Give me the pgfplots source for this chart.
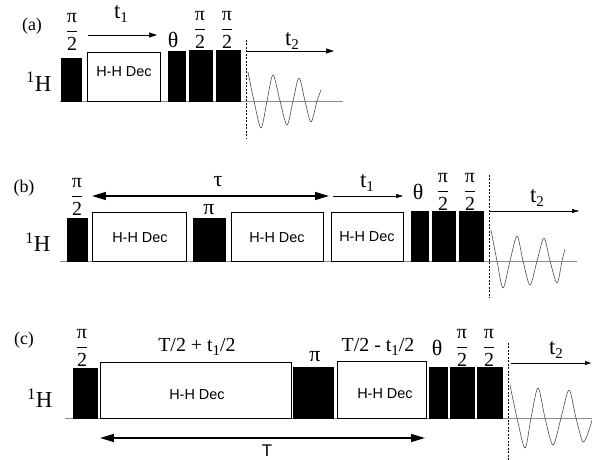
\documentclass[border=0pt]{standalone}
\usepackage{fontspec}
\setmainfont{Liberation Serif}
\newfontfamily\sansf{Liberation Sans}
\usepackage{pgfplots}
\pgfplotsset{compat=1.18}
\usetikzlibrary{arrows.meta}
\definecolor{baseg}{gray}{0.55}
\definecolor{waveg}{gray}{0.3}
\newcommand{\pihalf}{$\displaystyle\frac{\mbox{π}}{\mbox{2}}$}
\newcommand{\pulse}[4]{\addplot[fill=black,draw=black,line width=0.3pt] coordinates {(#1,#4) (#1,#3) (#2,#3) (#2,#4)} -- cycle;}
\newcommand{\decbox}[4]{\addplot[fill=white,draw=black,line width=0.7pt] coordinates {(#1,#4) (#1,#3) (#2,#3) (#2,#4)} -- cycle;}
\newcommand{\sub}[1]{\raisebox{-0.35ex}{\fontsize{15}{16}\selectfont #1}}
\tikzset{
  lbl/.style={font=\fontsize{22}{24}\selectfont, inner sep=0pt},
  fr/.style={font=\fontsize{20}{22}\selectfont, inner sep=0pt},
  tl/.style={font=\fontsize{23}{25}\selectfont, inner sep=0pt, anchor=base},
  hh/.style={font=\sansf\fontsize{14.5}{16}\selectfont, inner sep=0pt},
  pl/.style={font=\fontsize{18}{20}\selectfont, inner sep=0pt},
  hl/.style={font=\fontsize{23}{25}\selectfont, inner sep=0pt, anchor=base},
}
\begin{document}
\begin{tikzpicture}
\begin{axis}[scale only axis, width=592bp, height=460bp,
  xmin=0, xmax=592, ymin=0, ymax=460, y dir=reverse,
  hide axis, clip=false]
\coordinate (BBa) at (axis cs:0,0);
\coordinate (BBb) at (axis cs:592,460);
% ---------------- panel (a)
\addplot[baseg, line width=0.8pt] coordinates {(60,101) (343,101)};
\pulse{61}{81}{58}{101}
\decbox{87}{160}{52}{101}
\pulse{168}{185}{51}{101}
\pulse{189}{212}{50}{101}
\pulse{216}{240}{50}{101}
\addplot[black, line width=0.5pt, dash pattern=on 2pt off 1.5pt] coordinates {(246,40) (246,138)};
\addplot[waveg, line width=0.6pt, smooth] coordinates {(248,72) (254,101) (261,128) (267,101) (273,75) (280,101) (287,125) (293,101) (299,78) (305,101) (311,122) (317,101) (321,90)};
\addplot[black, line width=0.7pt, -{Triangle[length=8pt,width=5pt]}] coordinates {(88,35) (157,35)};
\addplot[black, line width=0.7pt, -{Triangle[length=8pt,width=5pt]}] coordinates {(247,51) (334,51)};
\node[pl] at (axis cs:32,26) {(a)};
\node[hl] at (axis cs:39,92) {\textsuperscript{1}H};
\node[hh] at (axis cs:124,72) {H-H Dec};
\node[fr] at (axis cs:72,32) {\pihalf};
\node[fr] at (axis cs:200,30) {\pihalf};
\node[fr] at (axis cs:227,30) {\pihalf};
\node[lbl] at (axis cs:173,40) {θ};
\node[tl] at (axis cs:121,19) {t\sub{1}};
\node[tl] at (axis cs:292,46) {t\sub{2}};
% ---------------- panel (b)
\addplot[baseg, line width=0.8pt] coordinates {(60,261) (577,261)};
\pulse{67}{87}{218}{261}
\decbox{92}{186}{212}{261}
\pulse{193}{225}{218}{261}
\decbox{231}{323}{212}{261}
\decbox{331}{403}{212}{261}
\pulse{411}{428}{211}{261}
\pulse{432}{455}{211}{261}
\pulse{459}{483}{211}{261}
\addplot[black, line width=0.5pt, dash pattern=on 2pt off 1.5pt] coordinates {(489,175) (489,298)};
\addplot[waveg, line width=0.6pt, smooth] coordinates {(491,230) (497,261) (503,288) (510,261) (517,236) (523,261) (530,285) (537,261) (544,238) (550,261) (557,283) (562,261) (565,249)};
\addplot[black, line width=1.3pt, {Triangle[length=14pt,width=8pt]}-{Triangle[length=14pt,width=8pt]}] coordinates {(92,196) (329,196)};
\addplot[black, line width=0.6pt, -{Triangle[length=7pt,width=4pt]}] coordinates {(333,196) (403,196)};
\addplot[black, line width=0.6pt, -{Triangle[length=7pt,width=4pt]}] coordinates {(490,211) (579,211)};
\node[pl] at (axis cs:24,188) {(b)};
\node[hl] at (axis cs:38,252) {\textsuperscript{1}H};
\node[hh] at (axis cs:140,238) {H-H Dec};
\node[hh] at (axis cs:277,238) {H-H Dec};
\node[hh] at (axis cs:367,237) {H-H Dec};
\node[fr] at (axis cs:77,197) {\pihalf};
\node[lbl] at (axis cs:209,210) {π};
\node[lbl] at (axis cs:218,182) {τ};
\node[lbl] at (axis cs:418,192) {θ};
\node[fr] at (axis cs:443,192) {\pihalf};
\node[fr] at (axis cs:470,192) {\pihalf};
\node[tl] at (axis cs:367,188) {t\sub{1}};
\node[tl] at (axis cs:537,203) {t\sub{2}};
% ---------------- panel (c)
\addplot[baseg, line width=0.8pt] coordinates {(65,418) (592,418)};
\pulse{73}{97}{368}{418}
\decbox{100}{291}{362}{418}
\pulse{293}{333}{367}{418}
\decbox{337}{426}{361}{418}
\pulse{429}{447}{367}{418}
\pulse{450}{474}{367}{418}
\pulse{477}{502}{367}{418}
\addplot[black, line width=0.5pt, dash pattern=on 2pt off 1.5pt] coordinates {(508,343) (508,460)};
\addplot[waveg, line width=0.6pt, smooth] coordinates {(510,385) (517,418) (525,448) (531,418) (538,388) (545,418) (553,445) (561,418) (569,390) (576,418) (583,442) (589,430) (592,420)};
\addplot[black, line width=1.3pt, {Triangle[length=14pt,width=8pt]}-{Triangle[length=14pt,width=8pt]}] coordinates {(100,438) (425,438)};
\addplot[black, line width=0.6pt, -{Triangle[length=6pt,width=4pt]}] coordinates {(511,363) (591,363)};
\node[pl] at (axis cs:24,340) {(c)};
\node[hl] at (axis cs:40,408) {\textsuperscript{1}H};
\node[hh] at (axis cs:197,395) {H-H Dec};
\node[hh] at (axis cs:385,394) {H-H Dec};
\node[fr] at (axis cs:82,348) {\pihalf};
\node[lbl] at (axis cs:315,357) {π};
\node[lbl] at (axis cs:437,348) {θ};
\node[fr] at (axis cs:462,348) {\pihalf};
\node[fr] at (axis cs:489,348) {\pihalf};
\node[tl, font=\fontsize{20}{22}\selectfont] at (axis cs:197,352) {T/2 + t\sub{1}/2};
\node[tl, font=\fontsize{20}{22}\selectfont] at (axis cs:378,352) {T/2 - t\sub{1}/2};
\node[tl] at (axis cs:556,355) {t\sub{2}};
\node[font=\sansf\fontsize{17}{19}\selectfont, inner sep=0pt, anchor=base] at (axis cs:267,457) {T};
\end{axis}
\pgfresetboundingbox
\path[use as bounding box] (BBa) rectangle (BBb);
\end{tikzpicture}
\end{document}
